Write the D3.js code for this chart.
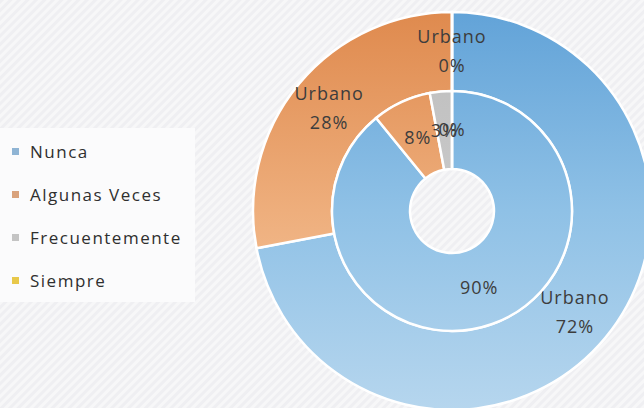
<!DOCTYPE html>
<html>
<head>
<meta charset="utf-8">
<script src="https://cdn.jsdelivr.net/npm/d3@7"></script>
<style>
  body { margin: 0; background: #f4f4f6; }
  svg { display: block; }
  text { font-family: "Open Sans", "Noto Sans", sans-serif; }
</style>
</head>
<body>
<svg id="chart"></svg>
<script>
// categories and the two rings (outer = Urbano, inner = second ring)
const categories = ["Nunca", "Algunas Veces", "Frecuentemente", "Siempre"];
const outerValues = [72, 28, 0, 0];
const innerValues = [90, 8, 3, 0];
const outerName = "Urbano";

const width = 644, height = 408;
const cx = 452, cy = 211;
const r_hole = 42, r_mid = 120, r_out = 199;

const svg = d3.select("#chart")
    .attr("width", width)
    .attr("height", height);

// subtle woven background
const defs = svg.append("defs");
const pat = defs.append("pattern")
    .attr("id", "weave")
    .attr("width", 6).attr("height", 6)
    .attr("patternUnits", "userSpaceOnUse")
    .attr("patternTransform", "rotate(45)");
pat.append("rect").attr("width", 6).attr("height", 6).attr("fill", "#f7f7f8");
pat.append("rect").attr("width", 3).attr("height", 6).attr("fill", "#efeff2");

svg.append("rect")
    .attr("width", width).attr("height", height)
    .attr("fill", "url(#weave)");

// gradient fills, top darker -> bottom lighter (coords local to the ring group)
const grads = [
    ["#62a3d8", "#8fc1e6", "#b6d6ee"],
    ["#df8a4e", "#eeae7c", "#f8cfaa"],
    ["#bcbcbc", "#cacaca", "#d8d8d8"],
    ["#ffc000", "#ffcf40", "#ffdd77"]
];
grads.forEach((g, i) => {
    const lg = defs.append("linearGradient")
        .attr("id", "g" + i)
        .attr("gradientUnits", "userSpaceOnUse")
        .attr("x1", 0).attr("x2", 0)
        .attr("y1", -r_out).attr("y2", r_out);
    lg.append("stop").attr("offset", "0%").attr("stop-color", g[0]);
    lg.append("stop").attr("offset", "50%").attr("stop-color", g[1]);
    lg.append("stop").attr("offset", "100%").attr("stop-color", g[2]);
});

const colour = d3.scaleOrdinal()
    .domain(categories)
    .range(categories.map((c, i) => "url(#g" + i + ")"));

const legendColour = d3.scaleOrdinal()
    .domain(categories)
    .range(["#8fb4d4", "#d9a27c", "#c4c4c4", "#e8c84a"]);

const pie = d3.pie().sort(null).value(d => d.value);

function ring(values, r0, r1, withName){
    const data = pie(categories.map((c, i) => ({cat: c, value: values[i]})));
    const arc = d3.arc().innerRadius(r0).outerRadius(r1);
    const g = svg.append("g").attr("transform", `translate(${cx},${cy})`);

    g.selectAll("path")
        .data(data)
        .join("path")
        .attr("d", arc)
        .attr("fill", d => colour(d.data.cat))
        .attr("stroke", "#ffffff")
        .attr("stroke-width", 2.5);

    // labels (Siempre has none on the outer ring)
    const lab = g.selectAll("text")
        .data(data.filter(d => d.data.cat !== "Siempre" || !withName))
        .join("text")
        .attr("transform", d => `translate(${arc.centroid(d)})`)
        .attr("text-anchor", "middle")
        .attr("fill", "#3d3d3d")
        .attr("font-size", 18)
        .attr("letter-spacing", 1);

    if (withName) {
        lab.append("tspan").attr("x", 0).attr("y", -9).text(outerName);
        lab.append("tspan").attr("x", 0).attr("y", 20).text(d => d.data.value + "%");
    } else {
        lab.attr("dy", "0.35em").text(d => d.data.value + "%");
    }
}

ring(outerValues, r_mid, r_out, true);
ring(innerValues, r_hole, r_mid, false);

// legend
svg.append("rect")
    .attr("x", 0).attr("y", 128)
    .attr("width", 195).attr("height", 174)
    .attr("fill", "#fbfbfc");

const leg = svg.append("g")
    .selectAll("g")
    .data(categories)
    .join("g")
    .attr("transform", (d, i) => `translate(12, ${152 + i * 43})`);

leg.append("rect")
    .attr("x", 0).attr("y", -4)
    .attr("width", 7).attr("height", 7)
    .attr("fill", d => legendColour(d));

leg.append("text")
    .attr("x", 18)
    .attr("dy", "0.35em")
    .attr("fill", "#2f2f2f")
    .attr("font-size", 17)
    .attr("letter-spacing", 1.5)
    .text(d => d);
</script>
</body>
</html>
